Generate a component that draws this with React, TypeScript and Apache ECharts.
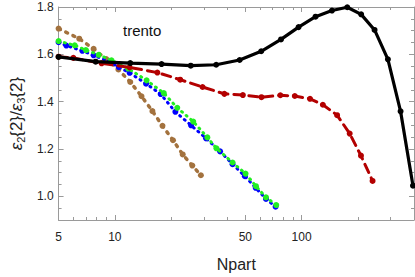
import React, { useEffect, useRef } from "react";
import * as echarts from "echarts";

// Npart / ratio data
const blackX = [5, 7.9, 12.1, 17.8, 25.5, 34.9, 46.6, 60.8, 77.6, 96.4, 118.8, 145.5, 175.7, 208.5, 246, 290, 339, 395];
const blackY = [1.589, 1.569, 1.563, 1.559, 1.552, 1.556, 1.576, 1.613, 1.663, 1.715, 1.759, 1.785, 1.799, 1.769, 1.703, 1.579, 1.359, 1.045];

const redX = [5, 6, 8.5, 12, 16.9, 22.4, 29.5, 38.6, 48.5, 61, 77, 92, 111, 130, 155, 181, 208, 240];
const redY = [1.59, 1.585, 1.562, 1.545, 1.523, 1.493, 1.462, 1.433, 1.428, 1.419, 1.427, 1.424, 1.412, 1.387, 1.343, 1.265, 1.172, 1.065];

const brownX = [5, 6.45, 7.7, 9, 10.45, 12.1, 13.9, 15.9, 18, 20.5, 23.1, 26, 28.9];
const brownY = [1.709, 1.666, 1.623, 1.58, 1.536, 1.483, 1.423, 1.36, 1.298, 1.237, 1.177, 1.13, 1.089];

const blueX = [5, 5.5, 6.7, 7.7, 9.4, 10.5, 12, 14.7, 17.6, 21.1, 25.6, 30.8, 36.6, 42.7, 49.7, 56.8, 64.5, 72.6];
const blueY = [1.651, 1.637, 1.615, 1.596, 1.568, 1.546, 1.522, 1.476, 1.432, 1.357, 1.3, 1.245, 1.19, 1.136, 1.085, 1.036, 0.989, 0.956];

const greenX = [5, 6.1, 7.0, 8.2, 9.6, 11.8, 14.8, 18.3, 21.6, 26.3, 31.3, 35, 42.7, 50.1, 57, 64.5, 73.2];
const greenY = [1.656, 1.638, 1.618, 1.598, 1.575, 1.54, 1.49, 1.436, 1.374, 1.316, 1.249, 1.203, 1.143, 1.096, 1.043, 0.996, 0.963];

const xMajor = [5, 10, 50, 100];
const xMinor = [6, 7, 8, 9, 20, 30, 40, 60, 70, 80, 90, 200, 300];
const yMajor = [1.0, 1.2, 1.4, 1.6, 1.8];
const yMinor = [0.9, 0.95, 1.05, 1.1, 1.15, 1.25, 1.3, 1.35, 1.45, 1.5, 1.55, 1.65, 1.7, 1.75];

const X_MIN = 5;
const X_MAX = 400;
const Y_MIN = 0.9;
const Y_MAX = 1.8;

const lg = (v: number) => Math.log10(v);
const pts = (xs: number[], ys: number[]) => xs.map((x, i) => [lg(x), ys[i]]);

const FONT = "'Liberation Sans', Arial, sans-serif";
const AXIS_COLOR = "#9a9a9a";

export default function App() {
  const ref = useRef<HTMLDivElement>(null);
  useEffect(() => {
    if (!ref.current) return;
    const chart = echarts.init(ref.current, undefined, { renderer: "svg" });

    const xBase = {
      type: "value" as const,
      min: lg(X_MIN),
      max: lg(X_MAX),
      splitLine: { show: false },
    };
    const yBase = {
      type: "value" as const,
      min: Y_MIN,
      max: Y_MAX,
      splitLine: { show: false },
    };

    const option: any = {
      animation: false,
      backgroundColor: "#fff",
      grid: { left: 50, right: 1, top: 7, bottom: 44, containLabel: false },
      xAxis: [
        {
          ...xBase,
          position: "bottom",
          axisLine: { show: true, lineStyle: { color: AXIS_COLOR, width: 1 } },
          axisTick: { show: true, inside: true, length: 5, customValues: xMajor.map(lg), lineStyle: { color: AXIS_COLOR } },
          axisLabel: {
            show: true,
            customValues: xMajor.map(lg),
            formatter: (v: number) => String(Math.round(Math.pow(10, v))),
            color: "#222",
            fontSize: 12,
            fontFamily: FONT,
            margin: 11,
          },
          name: "Npart",
          nameLocation: "middle",
          nameGap: 36,
          nameTextStyle: { fontSize: 16, color: "#222", fontFamily: FONT },
        },
        {
          ...xBase,
          position: "bottom",
          axisLine: { show: false },
          axisTick: { show: true, inside: true, length: 3, customValues: xMinor.map(lg), lineStyle: { color: AXIS_COLOR } },
          axisLabel: { show: false },
        },
        {
          ...xBase,
          position: "top",
          axisLine: { show: true, lineStyle: { color: AXIS_COLOR, width: 1 } },
          axisTick: { show: true, inside: true, length: 5, customValues: xMajor.map(lg), lineStyle: { color: AXIS_COLOR } },
          axisLabel: { show: false },
        },
        {
          ...xBase,
          position: "top",
          axisLine: { show: false },
          axisTick: { show: true, inside: true, length: 3, customValues: xMinor.map(lg), lineStyle: { color: AXIS_COLOR } },
          axisLabel: { show: false },
        },
      ],
      yAxis: [
        {
          ...yBase,
          position: "left",
          axisLine: { show: true, lineStyle: { color: AXIS_COLOR, width: 1 } },
          axisTick: { show: true, inside: true, length: 5, customValues: yMajor, lineStyle: { color: AXIS_COLOR } },
          axisLabel: {
            show: true,
            customValues: yMajor,
            formatter: (v: number) => v.toFixed(1),
            color: "#222",
            fontSize: 12,
            fontFamily: FONT,
            margin: 5,
          },
          name: "{i|ε}{s|2}{2}/{i|ε}{s|3}{2}",
          nameLocation: "middle",
          nameGap: 30,
          nameTextStyle: {
            fontSize: 17,
            color: "#222",
            fontFamily: FONT,
            rich: {
              i: { fontSize: 17, fontStyle: "italic", fontFamily: FONT, color: "#222" },
              s: { fontSize: 11, fontFamily: FONT, color: "#222", padding: [8, 0, 0, 0] },
            },
          },
        },
        {
          ...yBase,
          position: "left",
          axisLine: { show: false },
          axisTick: { show: true, inside: true, length: 3, customValues: yMinor, lineStyle: { color: AXIS_COLOR } },
          axisLabel: { show: false },
        },
        {
          ...yBase,
          position: "right",
          axisLine: { show: true, lineStyle: { color: AXIS_COLOR, width: 1 } },
          axisTick: { show: true, inside: true, length: 5, customValues: yMajor, lineStyle: { color: AXIS_COLOR } },
          axisLabel: { show: false },
        },
        {
          ...yBase,
          position: "right",
          axisLine: { show: false },
          axisTick: { show: true, inside: true, length: 3, customValues: yMinor, lineStyle: { color: AXIS_COLOR } },
          axisLabel: { show: false },
        },
      ],
      graphic: [
        {
          type: "text",
          left: 123,
          top: 23,
          style: { text: "trento", fontSize: 15, fontFamily: FONT, fill: "#111" },
        },
      ],
      series: [
        {
          type: "line",
          data: pts(brownX, brownY),
          symbol: "circle",
          symbolSize: 6,
          itemStyle: { color: "#a3723e" },
          lineStyle: { color: "#a3723e", width: 3.5, type: [2, 6], cap: "round" },
          z: 2,
        },
        {
          type: "line",
          data: pts(blueX, blueY),
          symbol: "circle",
          symbolSize: 6,
          itemStyle: { color: "#0000ff" },
          lineStyle: { color: "#0000ff", width: 3, type: [1, 5], cap: "round" },
          z: 3,
        },
        {
          type: "line",
          data: pts(greenX, greenY),
          symbol: "circle",
          symbolSize: 6,
          itemStyle: { color: "#22ee22" },
          lineStyle: { color: "#22ee22", width: 3, type: [1, 5], cap: "round" },
          z: 4,
        },
        {
          type: "line",
          data: pts(redX, redY),
          symbol: "circle",
          symbolSize: 6,
          itemStyle: { color: "#b30000" },
          lineStyle: { color: "#b30000", width: 3, type: [9, 6], cap: "round" },
          z: 5,
        },
        {
          type: "line",
          data: pts(blackX, blackY),
          symbol: "circle",
          symbolSize: 6,
          itemStyle: { color: "#000" },
          lineStyle: { color: "#000", width: 3.2 },
          z: 6,
        },
      ],
    };
    chart.setOption(option);
    return () => chart.dispose();
  }, []);
  return <div ref={ref} style={{ width: 415, height: 277, position: "absolute", left: 0, top: 0 }} />;
}
